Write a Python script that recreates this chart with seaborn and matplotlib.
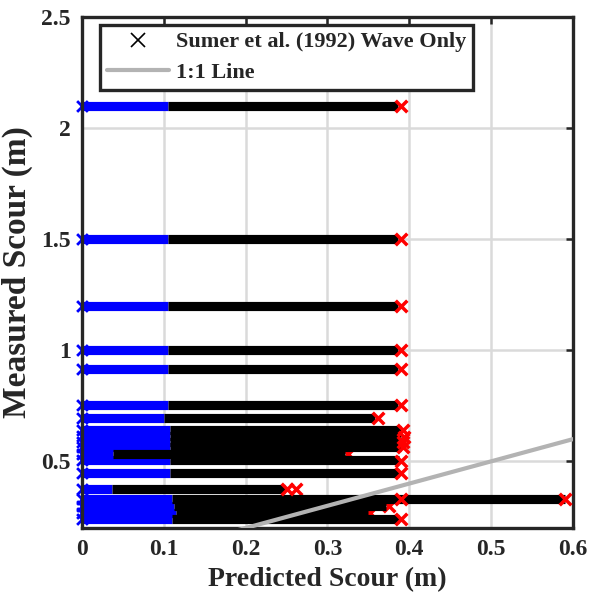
import numpy as np
import pandas as pd
import matplotlib
matplotlib.use("Agg")
import matplotlib.pyplot as plt
import seaborn as sns
from matplotlib.lines import Line2D

# ---- data ----
band_y = [2.10, 1.50, 1.20, 1.00, 0.915, 0.752, 0.697, 0.640, 0.612, 0.588,
          0.563, 0.535, 0.505, 0.447, 0.374, 0.330, 0.300, 0.268, 0.240]
blue_start = [0.0] * 19
blue_end = [0.105, 0.105, 0.105, 0.105, 0.105, 0.105, 0.100, 0.108, 0.108, 0.108,
            0.108, 0.038, 0.108, 0.108, 0.037, 0.110, 0.112, 0.115, 0.110]
black_end = [0.386, 0.386, 0.386, 0.386, 0.386, 0.386, 0.358, 0.390, 0.390, 0.390,
             0.390, 0.322, 0.388, 0.388, 0.248, 0.590, 0.372, 0.350, 0.388]

red_x = [0.39, 0.39, 0.39, 0.39, 0.39, 0.39, 0.362, 0.392, 0.394, 0.392, 0.392,
         0.39, 0.39, 0.25, 0.39, 0.59, 0.39]
red_y = [2.10, 1.50, 1.20, 1.00, 0.915, 0.752, 0.697, 0.640, 0.610, 0.588, 0.565,
         0.503, 0.447, 0.374, 0.330, 0.330, 0.240]
hidden_red_x = [0.255, 0.325, 0.262, 0.375, 0.352]
hidden_red_y = [0.535, 0.535, 0.374, 0.300, 0.268]

line11 = [0.0, 0.6]
xticks = [0, 0.1, 0.2, 0.3, 0.4, 0.5, 0.6]
xticklabels = ["0", "0.1", "0.2", "0.3", "0.4", "0.5", "0.6"]
yticks = [0.5, 1.0, 1.5, 2.0, 2.5]
yticklabels = ["0.5", "1", "1.5", "2", "2.5"]

sns.set_style("white")
plt.rcParams['font.family'] = ['Liberation Serif', 'DejaVu Serif']
plt.rcParams['font.weight'] = 'bold'

fig = plt.figure(figsize=(5.89, 6.0), dpi=100)
ax = fig.add_axes([0.1392, 0.12, 0.9728 - 0.1392, 0.9717 - 0.12])

band_lw = 6.6
ax.hlines(band_y, blue_start, blue_end, colors='#0000ff', linewidth=band_lw,
          zorder=2)
ax.hlines(band_y, blue_end, black_end, colors='black', linewidth=band_lw,
          zorder=3)
sns.scatterplot(x=blue_start, y=band_y, marker='x', color='#0000ff', s=60,
                linewidth=2.0, ax=ax, zorder=2, clip_on=False)
sns.scatterplot(x=hidden_red_x, y=hidden_red_y, marker='x', color='red', s=70,
                linewidth=2.5, ax=ax, zorder=2.5)
sns.scatterplot(x=red_x, y=red_y, marker='x', color='red', s=70,
                linewidth=2.5, ax=ax, zorder=4, clip_on=False)
sns.lineplot(x=line11, y=line11, color='#b3b3b3', linewidth=3.0, ax=ax,
             zorder=5)

ax.set_xlim(0, 0.6)
ax.set_ylim(0.2, 2.5)
ax.set_xticks(xticks)
ax.set_xticklabels(xticklabels)
ax.set_yticks(yticks)
ax.set_yticklabels(yticklabels)
ax.grid(True, color='#dadada', linewidth=1.8, zorder=0)
ax.set_axisbelow(True)
ax.tick_params(direction='in', top=True, right=True, length=5, width=1.8,
               labelsize=17, pad=8, colors='#262626')
for lab in ax.get_xticklabels() + ax.get_yticklabels():
    lab.set_fontweight('bold')
for sp in ax.spines.values():
    sp.set_linewidth(2.4)
    sp.set_color('#262626')
    sp.set_visible(True)

ax.set_xlabel("Predicted Scour (m)", fontsize=20, fontweight='bold',
              color='#262626', labelpad=5)
ax.set_ylabel("Measured Scour (m)", fontsize=24, fontweight='bold',
              color='#262626', labelpad=6)

handles = [Line2D([], [], linestyle='none', marker='x', color='black',
                  markersize=10, markeredgewidth=1.2),
           Line2D([], [], color='#b3b3b3', linewidth=3.0)]
leg = ax.legend(handles, ["Sumer et al. (1992) Wave Only", "1:1 Line"],
                loc='upper left', bbox_to_anchor=(0.037, 0.984),
                borderaxespad=0, fancybox=False, framealpha=1,
                prop={'family': 'Liberation Serif', 'weight': 'bold', 'size': 16},
                handlelength=2.8, handletextpad=0.3, labelspacing=0.45,
                borderpad=0.3)
leg.get_frame().set_edgecolor('#262626')
leg.get_frame().set_linewidth(2.4)
leg.set_zorder(10)

fig.savefig("out.png", dpi=100)
